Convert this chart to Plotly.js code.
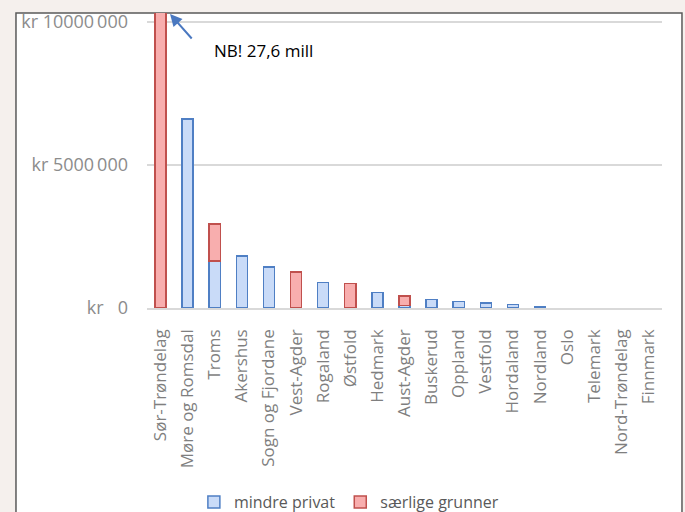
<!DOCTYPE html>
<html><head><meta charset="utf-8">
<script src="https://cdn.plot.ly/plotly-3.0.1.min.js"></script>
<style>html,body{margin:0;padding:0;background:#f5f0ed;}#c{width:685px;height:512px;}</style>
</head><body><div id="c"></div>
<script>
const categories = ["Sør-Trøndelag","Møre og Romsdal","Troms","Akershus","Sogn og Fjordane","Vest-Agder","Rogaland","Østfold","Hedmark","Aust-Agder","Buskerud","Oppland","Vestfold","Hordaland","Nordland","Oslo","Telemark","Nord-Trøndelag","Finnmark"];
const mindrePrivat = [null, 6610000, 1650000, 1810000, 1430000, null, 900000, null, 540000, 90000, 290000, 230000, 170000, 120000, 60000, null, null, null, null];
const saerligeGrunner = [27600000, null, 1290000, null, null, 1260000, null, 850000, null, 330000, null, null, null, null, null, null, null, null, null];
const yTickVals = [0, 5000000, 10000000];
const yTickText = ["kr\u00a0\u00a0\u00a00", "kr 5000\u2009000", "kr 10000\u2009000"];
const seriesNames = ["mindre privat", "særlige grunner"];
const noteText = "NB! 27,6 mill";

const traces = [
  {type:'bar', name:seriesNames[0], x:categories, y:mindrePrivat,
   marker:{color:'#c9dbf8', line:{color:'#4f7fc4', width:1.5}}},
  {type:'bar', name:seriesNames[1], x:categories, y:saerligeGrunner,
   marker:{color:'#f8aeae', line:{color:'#c0504d', width:1.5}}}
];
const font = "'Open Sans', sans-serif";
const layout = {
  width:685, height:512,
  margin:{l:147, r:23, t:13, b:204, autoexpand:false},
  paper_bgcolor:'#f5f0ed', plot_bgcolor:'rgba(0,0,0,0)',
  barmode:'stack', bargap:0.59,
  font:{family:font, color:'#7f7f7f', size:16},
  showlegend:true,
  legend:{orientation:'h', x:0.392, y:-0.658, xanchor:'center', yanchor:'middle',
          font:{family:font, size:16, color:'#595959'}, bgcolor:'rgba(0,0,0,0)', itemwidth:30, traceorder:'normal'},
  xaxis:{type:'category', tickangle:-90, showgrid:false, ticks:'', showline:true, linecolor:'#d9d9d9', linewidth:1.5,
         tickfont:{family:font, size:17, color:'#7f7f7f'}, ticklabelstandoff:13, range:[-0.5,18.5], automargin:false, fixedrange:true},
  yaxis:{range:[0,10315000], tickvals:yTickVals, ticktext:yTickText, showgrid:true, gridcolor:'#d9d9d9', gridwidth:1.5,
         zeroline:false, showline:false, ticks:'', tickfont:{family:font, size:18, color:'#8c8c8c'}, ticklabelstandoff:18, automargin:false, fixedrange:true},
  shapes:[{type:'rect', xref:'paper', yref:'paper', x0:-0.2544, x1:1.0388, y0:-0.75, y1:1.0, layer:'below',
           fillcolor:'#ffffff', line:{color:'#5a5a5a', width:1.5}}],
  annotations:[
    {x:0.35, y:10280000, xref:'x', yref:'y', ax:23, ay:26, showarrow:true, arrowhead:2, arrowsize:1.2, arrowwidth:2, arrowcolor:'#4a78c0', text:''},
    {x:3.78, y:9020000, xref:'x', yref:'y', showarrow:false, text:noteText, font:{family:font, size:17, color:'#000000'}}
  ]
};
Plotly.newPlot('c', traces, layout, {displayModeBar:false, staticPlot:true});
</script></body></html>
